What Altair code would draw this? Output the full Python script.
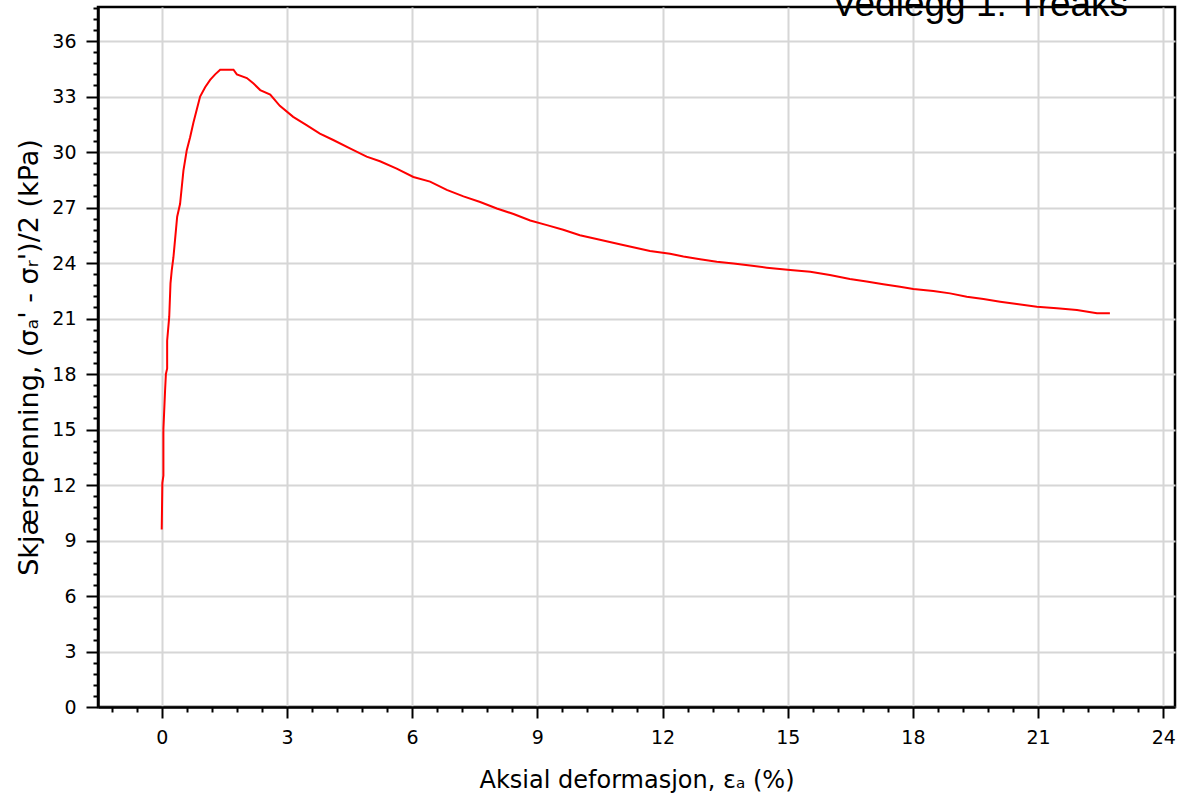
import altair as alt
import pandas as pd

# Triaxial test: shear stress vs axial strain
strain = [0.0, 0.015, 0.04, 0.04, 0.08, 0.10, 0.13, 0.13, 0.18, 0.21, 0.24, 0.28,
          0.37, 0.44, 0.52, 0.60, 0.68, 0.76, 0.84, 0.92, 1.04, 1.16, 1.28, 1.40,
          1.72, 1.80, 2.04, 2.20, 2.36, 2.60, 2.83, 3.15, 3.47, 3.79, 4.11, 4.51,
          4.91, 5.23, 5.63, 6.03, 6.43, 6.83, 7.23, 7.63, 8.03, 8.43, 8.83, 9.23,
          9.62, 10.02, 10.42, 11.0, 11.70, 12.18, 12.5, 12.9, 13.3, 13.7, 14.1,
          14.5, 15.06, 15.54, 16.01, 16.49, 16.89, 17.29, 17.69, 18.01, 18.49,
          18.89, 19.29, 19.69, 20.09, 20.49, 20.97, 21.45, 21.93, 22.41, 22.72]
shear = [9.6, 12.1, 12.5, 15.0, 17.1, 18.0, 18.3, 19.8, 21.1, 22.9, 23.6, 24.3,
         26.5, 27.2, 29.0, 30.1, 30.8, 31.6, 32.3, 33.0, 33.5, 33.9, 34.2, 34.45,
         34.45, 34.2, 34.0, 33.7, 33.35, 33.1, 32.5, 31.9, 31.45, 31.0, 30.65, 30.2,
         29.75, 29.5, 29.1, 28.65, 28.4, 27.95, 27.6, 27.3, 26.95, 26.65, 26.3, 26.05,
         25.8, 25.5, 25.3, 25.0, 24.65, 24.5, 24.35, 24.2, 24.07, 23.98, 23.86,
         23.75, 23.62, 23.53, 23.35, 23.14, 23.0, 22.85, 22.72, 22.6, 22.49,
         22.36, 22.18, 22.05, 21.91, 21.78, 21.64, 21.55, 21.46, 21.28, 21.28]

x_ticks = [round(-1.2 + 0.6 * k, 1) for k in range(43)]
y_ticks = [round(0.6 * k, 1) for k in range(64)]
heading = ["Vedlegg 1: Treaks"]

df = pd.DataFrame({"strain": strain, "shear": shear, "order": list(range(len(strain)))})

major = "abs(datum.value / 3 - round(datum.value / 3)) < 0.001"
label_expr = f"{major} ? format(round(datum.value), 'd') : ''"
FONT = "DejaVu Sans"


def make_axis(values, title, tick_major, title_size, title_kw):
    return alt.Axis(
        values=values,
        title=title,
        labelExpr=label_expr,
        labelOverlap=False,
        labelFlush=False,
        labelFont=FONT,
        labelFontSize=19,
        labelColor="black",
        labelPadding=10,
        tickSize={"condition": {"test": major, "value": tick_major}, "value": 5},
        tickWidth=2,
        tickColor="black",
        domainColor="black",
        domainWidth=2.5,
        grid=True,
        gridColor="#d6d6d6",
        gridWidth=2,
        gridOpacity={"condition": {"test": major, "value": 1}, "value": 0},
        titleFont=FONT,
        titleFontSize=title_size,
        titleFontWeight="normal",
        titleColor="black",
        titleBaseline="alphabetic",
        **title_kw,
    )


curve = (
    alt.Chart(df)
    .mark_line(color="#ff0000", strokeWidth=2)
    .encode(
        x=alt.X(
            "strain:Q",
            scale=alt.Scale(domain=[-1.527, 24.28], nice=False, zero=False),
            axis=make_axis(x_ticks, "Aksial deformasjon, εₐ (%)", 11, 24, {"titleY": 80}),
        ),
        y=alt.Y(
            "shear:Q",
            scale=alt.Scale(domain=[0, 37.84], nice=False, zero=False),
            axis=make_axis(
                y_ticks, "Skjærspenning, (σₐ' - σᵣ')/2 (kPa)", 12, 27, {"titleX": -61}
            ),
        ),
        order="order:Q",
    )
)

# Report heading in the top-right corner, partly beyond the page edge
header = (
    alt.Chart(pd.DataFrame({"heading": heading}))
    .mark_text(
        font="Liberation Sans",
        fontSize=37,
        color="black",
        align="center",
        baseline="alphabetic",
    )
    .encode(text="heading:N", x=alt.value(882), y=alt.value(9))
)

chart = (
    alt.layer(curve, header)
    .properties(
        width=1077,
        height=700,
        autosize="none",
        padding={"left": 98, "top": 7, "right": 10, "bottom": 91},
    )
    .configure_view(stroke="black", strokeWidth=2.5)
)

chart.save("out.html", embed_options={"renderer": "svg", "actions": False})
